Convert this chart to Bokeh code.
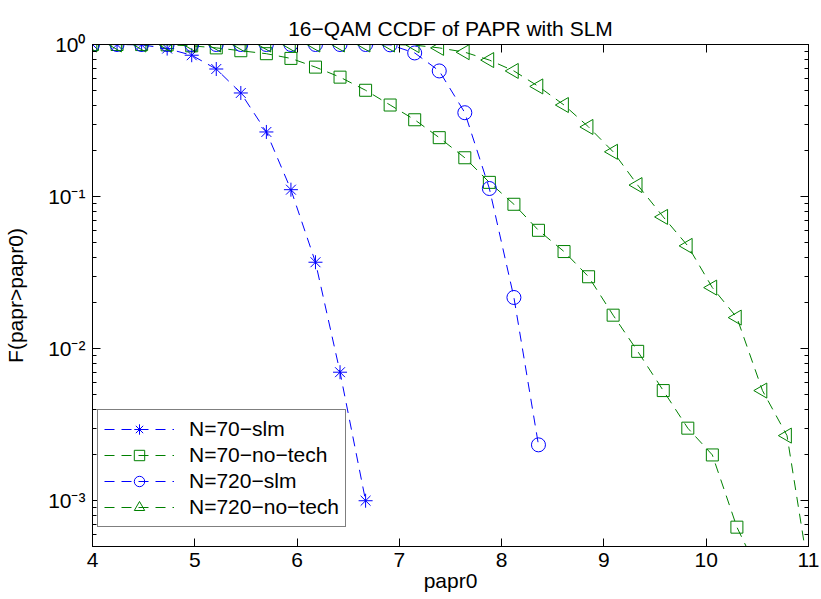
import math
from bokeh.plotting import figure
from bokeh.models import (Range1d, LinearAxis, LogAxis, CustomJSTickFormatter,
                          FixedTicker, LogTicker, Legend, LegendItem)
from bokeh.embed import file_html
from bokeh.resources import INLINE

# ---- data ----
x_70_slm = [4.00, 4.24, 4.48, 4.73, 4.97, 5.21, 5.45, 5.70, 5.94, 6.18, 6.42, 6.67]
y_70_slm = [1.0, 0.999, 0.995, 0.94, 0.85, 0.69, 0.48, 0.266, 0.111, 0.037, 0.0070, 0.0010]

x_70_no = [4.00, 4.24, 4.48, 4.73, 4.97, 5.21, 5.45, 5.70, 5.94, 6.18, 6.42, 6.67,
           6.91, 7.15, 7.39, 7.64, 7.88, 8.12, 8.36, 8.61, 8.85, 9.09, 9.33, 9.58,
           9.82, 10.06, 10.30, 10.55]
y_70_no = [1.0, 1.0, 0.999, 0.995, 0.98, 0.95, 0.91, 0.87, 0.81, 0.71, 0.61, 0.50,
           0.40, 0.32, 0.244, 0.18, 0.124, 0.089, 0.060, 0.0435, 0.0297, 0.0166,
           0.0096, 0.0053, 0.0030, 0.0020, 0.00067, 0.0003]

x_720_slm = [4.00, 4.24, 4.48, 4.73, 4.97, 5.21, 5.45, 5.70, 5.94, 6.18, 6.42, 6.67,
             6.91, 7.15, 7.39, 7.64, 7.88, 8.12, 8.36]
y_720_slm = [1.0, 1.0, 1.0, 1.0, 1.0, 1.0, 1.0, 1.0, 1.0, 1.0, 1.0, 1.0,
             0.995, 0.88, 0.67, 0.356, 0.113, 0.0217, 0.00233]

x_720_no = [4.00, 4.24, 4.48, 4.73, 4.97, 5.21, 5.45, 5.70, 5.94, 6.18, 6.42, 6.67,
            6.91, 7.15, 7.39, 7.64, 7.88, 8.12, 8.36, 8.61, 8.85, 9.09, 9.33, 9.58,
            9.82, 10.06, 10.30, 10.55, 10.79, 11.03]
y_720_no = [1.0, 1.0, 1.0, 1.0, 1.0, 1.0, 1.0, 1.0, 1.0, 1.0, 1.0, 1.0,
            1.0, 0.99, 0.95, 0.89, 0.79, 0.67, 0.53, 0.40, 0.287, 0.197, 0.119, 0.0735,
            0.0474, 0.0252, 0.0160, 0.0053, 0.00268, 0.00026]

labels = ["N=70\u2212slm", "N=70\u2212no\u2212tech", "N=720\u2212slm", "N=720\u2212no\u2212tech"]
x_ticks = [4, 5, 6, 7, 8, 9, 10, 11]

BLUE = "#0000ff"
GREEN = "#008000"
FONT = "Liberation Sans"
FS = "21px"

p = figure(width=821, height=599, y_axis_type="log",
           x_range=Range1d(4, 11), y_range=Range1d(5e-4, 1),
           output_backend="svg", toolbar_location=None,
           min_border_left=92, min_border_right=13, min_border_top=44,
           min_border_bottom=53)

p.title.text = "16\u2212QAM CCDF of PAPR with SLM"
p.title.align = "center"
p.title.text_font = FONT
p.title.text_font_size = FS
p.title.text_font_style = "normal"
p.title.text_color = "black"
p.title.standoff = 9

p.grid.visible = False
p.outline_line_color = "black"
p.background_fill_color = "white"
p.border_fill_color = "white"

sup = CustomJSTickFormatter(code="""
const m = {'-':'\u207b','0':'\u2070','1':'\u00b9','2':'\u00b2','3':'\u00b3','4':'\u2074','5':'\u2075','6':'\u2076','7':'\u2077','8':'\u2078','9':'\u2079'};
const e = Math.round(Math.log10(tick));
return '10' + String(e).split('').map(c => m[c]).join('');
""")

def style_axis(ax):
    ax.axis_line_color = "black"
    ax.major_tick_in = 8
    ax.major_tick_out = 0
    ax.minor_tick_in = 4
    ax.minor_tick_out = 0
    ax.major_tick_line_color = "black"
    ax.minor_tick_line_color = "black"
    ax.major_label_text_font = FONT
    ax.major_label_text_font_size = FS
    ax.major_label_text_color = "black"
    ax.axis_label_text_font = FONT
    ax.axis_label_text_font_size = FS
    ax.axis_label_text_font_style = "normal"
    ax.axis_label_text_color = "black"

# bottom x axis
xa = p.xaxis[0]
xa.ticker = FixedTicker(ticks=x_ticks)
style_axis(xa)
xa.minor_tick_line_color = None
xa.axis_label = "papr0"
xa.major_label_standoff = 6
xa.axis_label_standoff = -1

# left y axis
ya = p.yaxis[0]
ya.ticker = LogTicker(num_minor_ticks=10)
ya.formatter = sup
style_axis(ya)
ya.axis_label = "F(papr>papr0)"
ya.major_label_standoff = 7
ya.axis_label_standoff = 18

# top & right axes (ticks only, no labels)
top = LinearAxis(ticker=FixedTicker(ticks=x_ticks))
style_axis(top)
top.major_label_text_font_size = "1px"
top.major_label_text_color = None
top.minor_tick_line_color = None
top.major_label_standoff = 0
p.add_layout(top, "above")

right = LogAxis(ticker=LogTicker(num_minor_ticks=10))
style_axis(right)
right.major_label_text_font_size = "1px"
right.major_label_text_color = None
right.major_label_standoff = 0
p.add_layout(right, "right")

dash = "10 7"

l1 = p.line(x_70_slm, y_70_slm, line_color=BLUE, line_dash=dash, line_width=1)
m1 = p.scatter(x_70_slm, y_70_slm, marker="asterisk", size=14, line_color=BLUE, line_width=1)
l2 = p.line(x_70_no, y_70_no, line_color=GREEN, line_dash=dash, line_width=1)
m2 = p.scatter(x_70_no, y_70_no, marker="square", size=12, line_color=GREEN, fill_color=None, line_width=1)
l3 = p.line(x_720_slm, y_720_slm, line_color=BLUE, line_dash=dash, line_width=1)
m3 = p.scatter(x_720_slm, y_720_slm, marker="circle", size=14, line_color=BLUE, fill_color=None, line_width=1)
l4 = p.line(x_720_no, y_720_no, line_color=GREEN, line_dash=dash, line_width=1)
m4 = p.scatter(x_720_no, y_720_no, marker="triangle", angle=math.pi / 2, size=15,
               line_color=GREEN, fill_color=None, line_width=1)

legend = Legend(items=[
    LegendItem(label=labels[0], renderers=[l1, m1]),
    LegendItem(label=labels[1], renderers=[l2, m2]),
    LegendItem(label=labels[2], renderers=[l3, m3]),
    LegendItem(label=labels[3], renderers=[l4, m4]),
], location=(5, 19))
legend.border_line_color = "black"
legend.border_line_width = 1
legend.background_fill_color = "white"
legend.background_fill_alpha = 1
legend.label_text_font = FONT
legend.label_text_font_size = FS
legend.label_text_color = "black"
legend.glyph_width = 70
legend.glyph_height = 26
legend.label_height = 26
legend.spacing = 0
legend.padding = 6
legend.margin = 0
legend.label_standoff = 15
p.add_layout(legend, "center")

open("out.html", "w").write(file_html(p, INLINE))
